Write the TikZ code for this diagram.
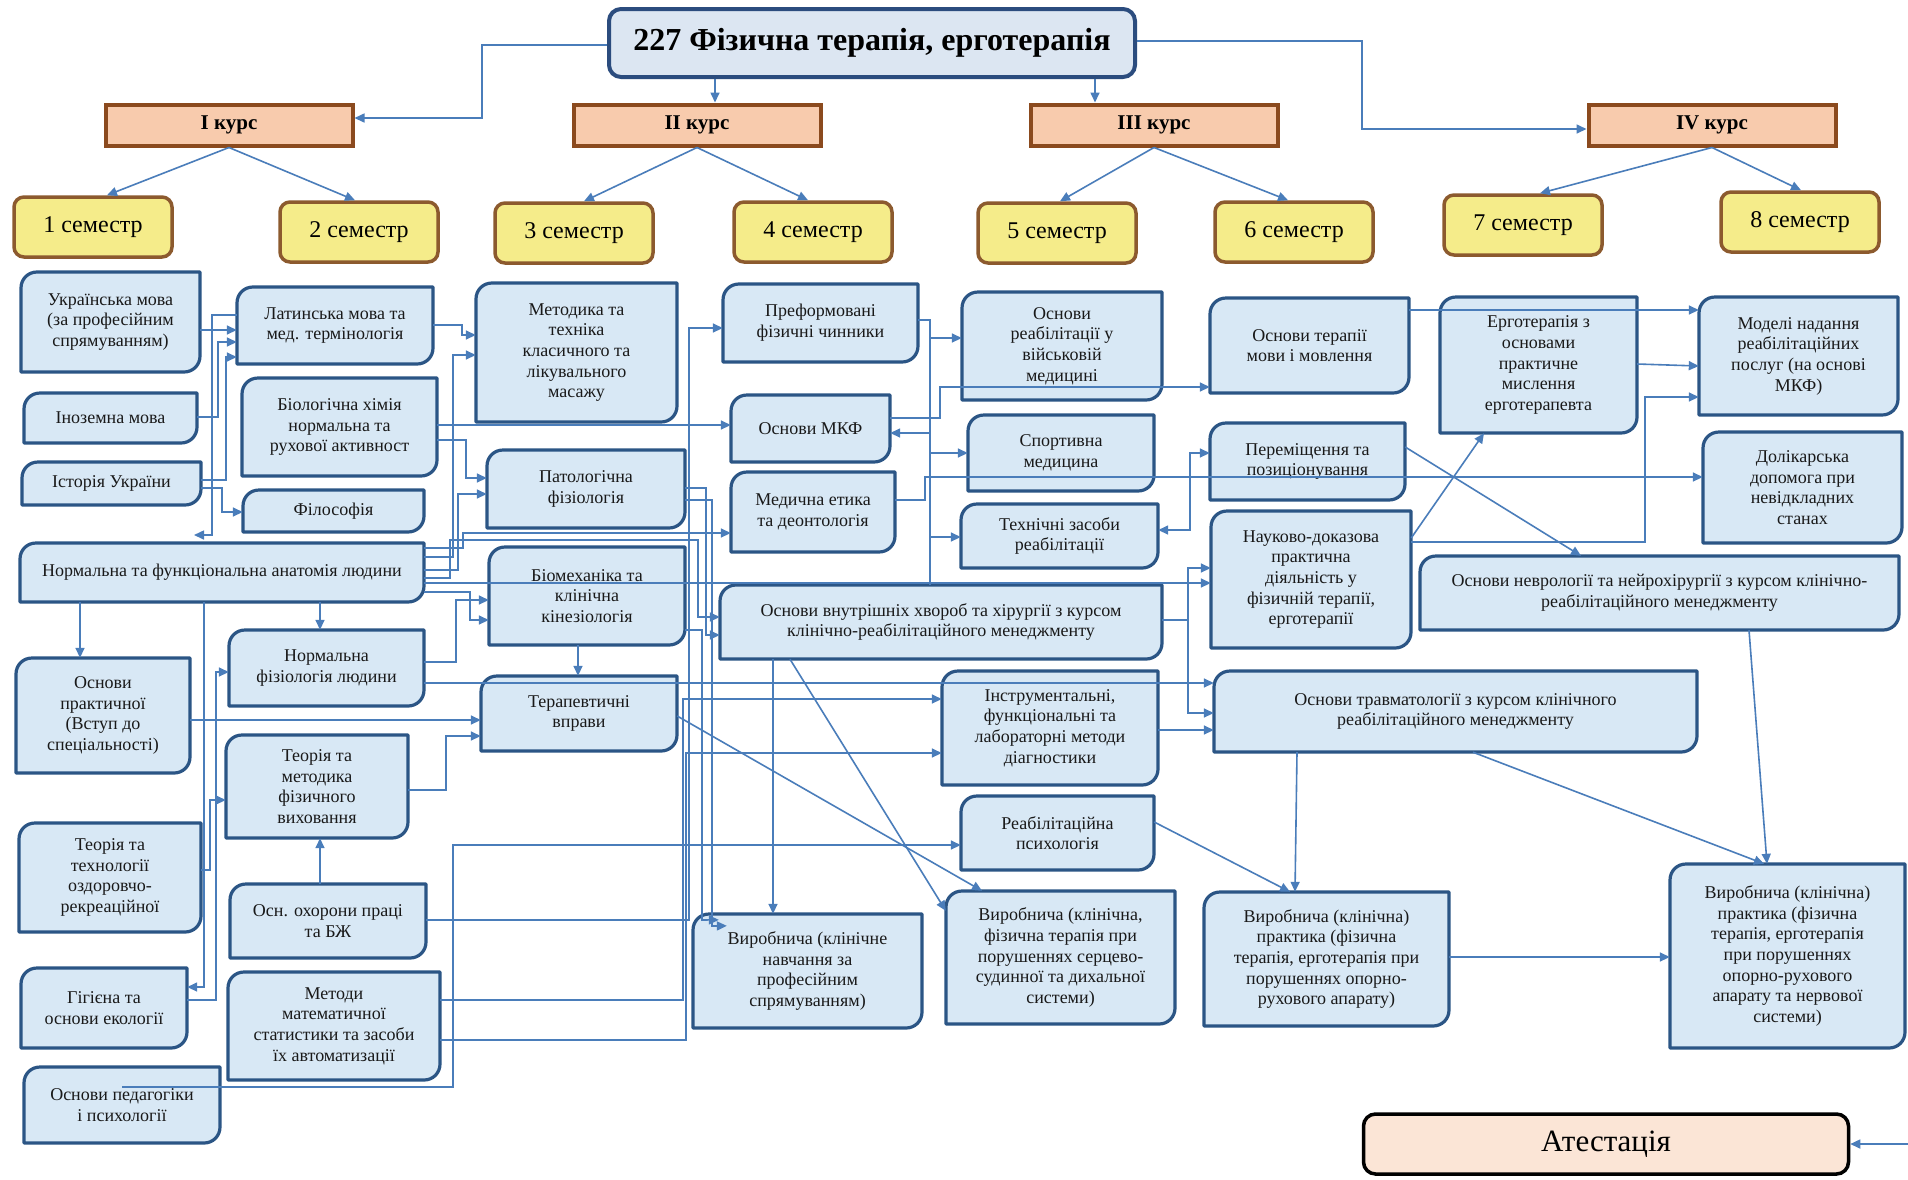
\documentclass[tikz,border=0pt]{standalone}
\usepackage{fontspec}
\setmainfont{Liberation Serif}
\usetikzlibrary{arrows.meta,calc}
\definecolor{sfill}{HTML}{D8E8F5}
\definecolor{sbord}{HTML}{2B5585}
\definecolor{conn}{HTML}{4A7DBA}
\definecolor{semfill}{HTML}{F5EC8A}
\definecolor{sembord}{HTML}{8C5A2E}
\definecolor{kfill}{HTML}{F8CBAD}
\definecolor{kbord}{HTML}{8B4A1E}
\definecolor{tfill}{HTML}{DCE6F2}
\definecolor{tbord}{HTML}{2B4C7E}
\definecolor{afill}{HTML}{FBE5D6}
\tikzset{
  subjshape/.style={draw=sbord, fill=sfill, line width=3.2pt, line join=round},
  subjtext/.style={inner sep=0pt, align=center, font=\fontsize{18}{20.7}\selectfont, text=black!90},
  sem/.style={draw=sembord, fill=semfill, line width=3.5pt, rounded corners=10pt,
    minimum width=158pt, minimum height=60pt, font=\fontsize{24}{28}\selectfont},
  kurs/.style={draw=kbord, fill=kfill, line width=4pt, minimum width=247pt, minimum height=41pt,
    font=\bfseries\fontsize{21}{25}\selectfont},
  ttl/.style={draw=tbord, fill=tfill, line width=4pt, rounded corners=12pt,
    minimum width=526pt, minimum height=68pt, font=\bfseries\fontsize{32}{36}\selectfont},
  att/.style={draw=black, fill=afill, line width=3.5pt, rounded corners=12pt,
    minimum width=485pt, minimum height=60pt, font=\fontsize{31}{35}\selectfont},
  cline/.style={draw=conn, line width=1.6pt},
  arr/.style={cline, -{Triangle[length=10pt,width=9pt]}},
  darr/.style={cline, {Triangle[length=10pt,width=9pt]}-{Triangle[length=10pt,width=9pt]}}
}
\newcommand{\subjbox}[6]{%
  \filldraw[subjshape] (#2,#5) -- (#2,{#3+16}) .. controls (#2,{#3+7}) and ({#2+7},#3) .. ({#2+16},#3)
    -- (#4,#3) -- (#4,{#5-16}) .. controls (#4,{#5-7}) and ({#4-7},#5) .. ({#4-16},#5) -- cycle;
  \node[subjtext, minimum width={#4-#2}, minimum height={#5-#3}] (#1) at ({(#2+#4)/2},{(#3+#5)/2}) {#6};
}
\begin{document}
\begin{tikzpicture}[x=1pt,y=-1pt]
\useasboundingbox (0,0) rectangle (1908,1179);
\fill[white] (0,0) rectangle (1908,1179);

% title, courses, semesters
\node[ttl] (title) at (872,43) {227 Фізична терапія, ерготерапія};
\node[kurs] (k1) at (229,125) {I курс};
\node[kurs] (k2) at (697,125) {II курс};
\node[kurs] (k3) at (1154,125) {III курс};
\node[kurs] (k4) at (1712,125) {IV курс};
\node[sem] (s1) at (93,227) {1 семестр};
\node[sem] (s2) at (359,232) {2 семестр};
\node[sem] (s3) at (574,233) {3 семестр};
\node[sem] (s4) at (813,232) {4 семестр};
\node[sem] (s5) at (1057,233) {5 семестр};
\node[sem] (s6) at (1294,232) {6 семестр};
\node[sem] (s7) at (1523,225) {7 семестр};
\node[sem] (s8) at (1800,222) {8 семестр};
\node[att] (att) at (1606,1144) {Атестація};

% subjects
\subjbox{ukr}{21}{272}{200}{372}{Українська мова\\(за професійним\\спрямуванням)}
\subjbox{inoz}{24}{393}{197}{443}{Іноземна мова}
\subjbox{ist}{22}{462}{201}{505}{Історія України}
\subjbox{anat}{20}{543}{424}{602}{Нормальна та функціональна анатомія людини}
\subjbox{osnpr}{16}{658}{190}{773}{Основи\\практичної\\(Вступ до\\спеціальності)}
\subjbox{tteh}{19}{823}{201}{932}{Теорія та\\технології\\оздоровчо-\\рекреаційної}
\subjbox{gig}{21}{968}{187}{1048}{Гігієна та\\основи екології}
\subjbox{ped}{24}{1067}{220}{1143}{Основи педагогіки\\і психології}
\subjbox{lat}{237}{287}{433}{364}{Латинська мова та\\мед. термінологія}
\subjbox{bio}{242}{378}{437}{476}{Біологічна хімія\\нормальна та\\рухової активност}
\subjbox{fil}{243}{490}{424}{532}{Філософія}
\subjbox{nfiz}{229}{630}{424}{706}{Нормальна\\фізіологія людини}
\subjbox{tmet}{226}{735}{408}{838}{Теорія та\\методика\\фізичного\\виховання}
\subjbox{ohor}{230}{884}{426}{958}{Осн. охорони праці\\та БЖ}
\subjbox{mmat}{228}{972}{440}{1080}{Методи\\математичної\\статистики та засоби\\їх автоматизації}
\subjbox{mas}{476}{283}{677}{422}{Методика та\\техніка\\класичного та\\лікувального\\масажу}
\subjbox{pat}{487}{450}{685}{528}{Патологічна\\фізіологія}
\subjbox{biom}{489}{547}{685}{645}{Біомеханіка та\\клінічна\\кінезіологія}
\subjbox{ter}{481}{676}{677}{751}{Терапевтичні\\вправи}
\subjbox{pref}{723}{284}{918}{362}{Преформовані\\фізичні чинники}
\subjbox{mkf}{731}{395}{890}{462}{Основи МКФ}
\subjbox{etik}{731}{472}{895}{552}{Медична етика\\та деонтологія}
\subjbox{vnutr}{720}{585}{1162}{659}{Основи внутрішніх хвороб та хірургії з курсом\\клінічно-реабілітаційного менеджменту}
\subjbox{instr}{942}{671}{1158}{785}{Інструментальні,\\функціональні та\\лабораторні методи\\діагностики}
\subjbox{psy}{961}{796}{1154}{870}{Реабілітаційна\\психологія}
\subjbox{vkn}{693}{914}{922}{1028}{Виробнича (клінічне\\навчання за\\професійним\\спрямуванням)}
\subjbox{vss}{946}{891}{1175}{1024}{Виробнича (клінічна,\\фізична терапія при\\порушеннях серцево-\\судинної та дихальної\\системи)}
\subjbox{vijsk}{962}{292}{1162}{400}{Основи\\реабілітації у\\військовій\\медицині}
\subjbox{sport}{968}{415}{1154}{491}{Спортивна\\медицина}
\subjbox{tehz}{961}{504}{1158}{568}{Технічні засоби\\реабілітації}
\subjbox{mova}{1210}{298}{1409}{393}{Основи терапії\\мови і мовлення}
\subjbox{perem}{1210}{423}{1405}{500}{Переміщення та\\позиціонування}
\subjbox{nauk}{1211}{511}{1411}{648}{Науково-доказова\\практична\\діяльність у\\фізичній терапії,\\ерготерапії}
\subjbox{travm}{1214}{671}{1697}{752}{Основи травматології з курсом клінічного\\реабілітаційного менеджменту}
\subjbox{vop}{1204}{892}{1449}{1026}{Виробнича (клінічна)\\практика (фізична\\терапія, ерготерапія при\\порушеннях опорно-\\рухового апарату)}
\subjbox{ergo}{1440}{297}{1637}{433}{Ерготерапія з\\основами\\практичне\\мислення\\ерготерапевта}
\subjbox{nevr}{1420}{556}{1899}{630}{Основи неврології та нейрохірургії з курсом клінічно-\\реабілітаційного менеджменту}
\subjbox{model}{1699}{297}{1898}{415}{Моделі надання\\реабілітаційних\\послуг (на основі\\МКФ)}
\subjbox{dolik}{1703}{432}{1902}{543}{Долікарська\\допомога при\\невідкладних\\станах}
\subjbox{vnerv}{1670}{864}{1905}{1048}{Виробнича (клінічна)\\практика (фізична\\терапія, ерготерапія\\при порушеннях\\опорно-рухового\\апарату та нервової\\системи)}

% free-end coordinates
\coordinate (anatin) at (194,535);
\coordinate (tr1) at (930,338);
\coordinate (attin) at (1908,1144);

% top connectors
\draw[arr] (title.west |- 0,45) -- (482,45) |- (k1.east |- 0,118);
\draw[arr] (title.south -| 715,0) -- (k2.north -| 715,0);
\draw[arr] (title.south -| 1095,0) -- (k3.north -| 1095,0);
\draw[arr] (title.east |- 0,41) -- (1362,41) |- (k4.west |- 0,129);
\draw[arr] (k1.south) -- (s1.north -| 107,0);
\draw[arr] (k1.south) -- (s2.north -| 355,0);
\draw[arr] (k2.south) -- (s3.north -| 584,0);
\draw[arr] (k2.south) -- (s4.north -| 808,0);
\draw[arr] (k3.south) -- (s5.north -| 1060,0);
\draw[arr] (k3.south) -- (s6.north -| 1288,0);
\draw[arr] (k4.south) -- (s7.north -| 1540,0);
\draw[arr] (k4.south) -- (s8.north -| 1801,0);

% semester 1-2 connectors
\draw[arr] (ukr.east |- 0,330) -- (lat.west |- 0,330);
\draw[arr] (inoz.east |- 0,417) -| (218,342) -- (lat.west |- 0,342);
\draw[arr] (ist.east |- 0,480) -| (226,357) -- (lat.west |- 0,357);
\draw[arr] (ist.east |- 0,488) -| (222,512) -- (fil.west |- 0,512);
\draw[arr] (lat.west |- 0,315) -| (212,535) -- (anatin);
\draw[arr] (anat.south -| 80,0) -- (osnpr.north -| 80,0);
\draw[arr] (anat.south -| 320,0) -- (nfiz.north -| 320,0);
\draw[arr] (anat.south -| 204,0) -- (204,987) -- (gig.east |- 0,987);
\draw[arr] (gig.east |- 0,1000) -| (216,672) -- (nfiz.west |- 0,672);
\draw[arr] (tteh.east |- 0,870) -| (210,800) -- (tmet.west |- 0,800);
\draw[arr] (ohor.north -| 320,0) -- (tmet.south -| 320,0);
\draw[arr] (tmet.east |- 0,790) -| (446,736) -- (ter.west |- 0,736);
\draw[arr] (osnpr.east |- 0,720) -- (ter.west |- 0,720);

% into semester 3
\draw[arr] (lat.east |- 0,325) -| (462,335) -- (mas.west |- 0,335);
\draw[arr] (anat.east |- 0,557) -| (453,355) -- (mas.west |- 0,355);
\draw[arr] (bio.east |- 0,440) -| (466,478) -- (pat.west |- 0,478);
\draw[arr] (anat.east |- 0,570) -| (458,494) -- (pat.west |- 0,494);
\draw[arr] (nfiz.east |- 0,662) -| (456,600) -- (biom.west |- 0,600);
\draw[arr] (anat.east |- 0,592) -| (470,620) -- (biom.west |- 0,620);
\draw[arr] (biom.south -| 578,0) -- (ter.north -| 578,0);

% into semester 4
\draw[arr] (bio.east |- 0,425) -- (mkf.west |- 0,425);
\draw[arr] (anat.east |- 0,548) -| (463,533) -- (etik.west |- 0,533);
\draw[arr] (ohor.east |- 0,920) -| (689,328) -- (pref.west |- 0,328);
\draw[arr] (anat.east |- 0,578) -| (450,540) -| (698,617) -- (vnutr.west |- 0,617);
\draw[arr] (pat.east |- 0,488) -| (706,635) -- (vnutr.west |- 0,635);
\draw[arr] (pat.east |- 0,500) -| (712,926) -- ($(vkn.north west)+(34,12)$);
\draw[arr] (biom.east |- 0,630) -| (702,920) -- ($(vkn.north west)+(26,6)$);
\draw[arr] (mmat.east |- 0,1000) -| (683,699) -- (instr.west |- 0,699);
\draw[arr] (mmat.east |- 0,1040) -| (686,753) -- (instr.west |- 0,753);
\draw[arr] (ped.center |- 0,1087) -| (453,845) -- (psy.west |- 0,845);
\draw[arr] (nfiz.east |- 0,683) -- (travm.west |- 0,683);
\draw[arr] (anat.east |- 0,583) -- (nauk.west |- 0,583);
\draw[arr] (vnutr.south -| 773,0) -- (vkn.north -| 773,0);
\draw[arr] (vnutr.south -| 790,0) -- ($(vss.north west)+(0,20)$);
\draw[arr] (ter.east |- 0,716) -- (vss.north -| 982,0);

% into semester 5-6
\draw[arr] (pref.east |- 0,320) -| (tr1) -- (vijsk.west |- 0,338);
\draw[arr] (tr1) -- (930,453) -- (sport.west |- 0,453);
\draw[arr] (tr1) -- (930,537) -- (tehz.west |- 0,537);
\draw[arr] (vnutr.north -| 930,0) -- (930,433) -- (mkf.east |- 0,433);
\draw[arr] (mkf.east |- 0,418) -| (940,387) -- (mova.west |- 0,387);
\draw[arr] (etik.east |- 0,500) -| (925,477) -- (dolik.west |- 0,477);
\draw[darr] (tehz.east |- 0,530) -| (1190,453) -- (perem.west |- 0,453);
\draw[arr] (vnutr.east |- 0,620) -| (1188,568) -- (nauk.west |- 0,568);
\draw[arr] (vnutr.east |- 0,620) -| (1188,713) -- (travm.west |- 0,713);
\draw[arr] (instr.east |- 0,730) -- (travm.west |- 0,730);

% semester 6-8
\draw[arr] (mova.east |- 0,310) -- (model.west |- 0,310);
\draw[arr] (ergo.east |- 0,364) -- (model.west |- 0,366);
\draw[arr] (nauk.east |- 0,542) -| (1645,397) -- (model.west |- 0,397);
\draw[arr] (nauk.east |- 0,538) -- (ergo.south -| 1484,0);
\draw[arr] (perem.east |- 0,447) -- (nevr.north -| 1581,0);
\draw[arr] (nevr.south -| 1749,0) -- (vnerv.north -| 1767,0);
\draw[arr] (travm.south -| 1297,0) -- (vop.north -| 1295,0);
\draw[arr] (travm.south -| 1473,0) -- (vnerv.north -| 1764,0);
\draw[arr] (vop.east |- 0,957) -- (vnerv.west |- 0,957);
\draw[arr] (psy.east |- 0,822) -- (vop.north -| 1290,0);
\draw[arr] (attin) -- (att.east |- 0,1144);
\end{tikzpicture}
\end{document}
